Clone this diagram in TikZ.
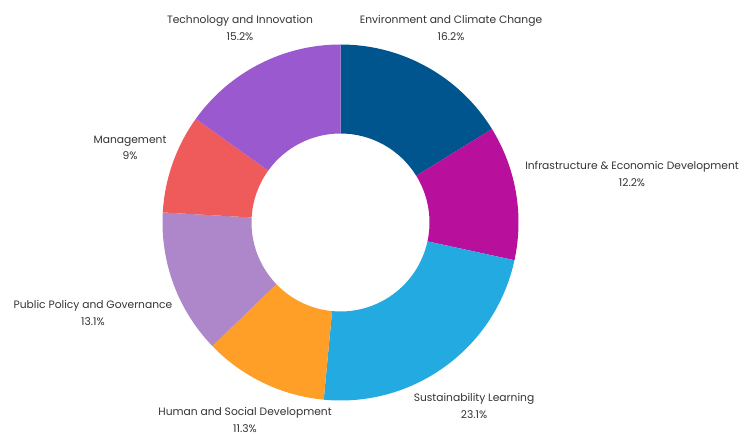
\documentclass[tikz,border=0pt]{standalone}
\usepackage{fontspec}
\setmainfont{Poppins}
\definecolor{envblue}{HTML}{00558E}
\definecolor{infmag}{HTML}{B8109C}
\definecolor{sustblue}{HTML}{23AAE1}
\definecolor{humorange}{HTML}{FF9F27}
\definecolor{publav}{HTML}{AD87C9}
\definecolor{mgmtred}{HTML}{EF5B5B}
\definecolor{techpurple}{HTML}{9B59CF}
\definecolor{labelgray}{HTML}{333333}
\begin{document}
\begin{tikzpicture}[x=1pt, y=1pt,
    lbl/.style={align=center, text=labelgray, inner sep=0pt,
        font=\fontsize{10.7}{16.5}\selectfont}]
    \useasboundingbox (0,0) rectangle (755,436);
    \coordinate (O) at (340.5,213.5);
    % slices, clockwise from the top
    \foreach \a/\b/\c in {90/31.68/envblue, 31.68/-12.24/infmag,
        -12.24/-95.4/sustblue, -95.4/-136.08/humorange,
        -136.08/-183.24/publav, -183.24/-215.64/mgmtred,
        -215.64/-270/techpurple}
    {
        \fill[\c] ([shift={(\a:178pt)}]O) arc[start angle=\a, end angle=\b, radius=178pt]
            -- ([shift={(\b:89pt)}]O) arc[start angle=\b, end angle=\a, radius=89pt] -- cycle;
    }

\node[lbl] (env) at (451,408) {Environment and Climate Change\\16.2\%};
\node[lbl] (inf) at (632,262) {Infrastructure \& Economic Development\\12.2\%};
\node[lbl] (sust) at (474,30) {Sustainability Learning\\23.1\%};
\node[lbl] (hum) at (245,16) {Human and Social Development\\11.3\%};
\node[lbl] (pub) at (93,123) {Public Policy and Governance\\13.1\%};
\node[lbl] (mgmt) at (130,288) {Management\\9\%};
\node[lbl] (tech) at (240,408) {Technology and Innovation\\15.2\%};
\end{tikzpicture}
\end{document}
